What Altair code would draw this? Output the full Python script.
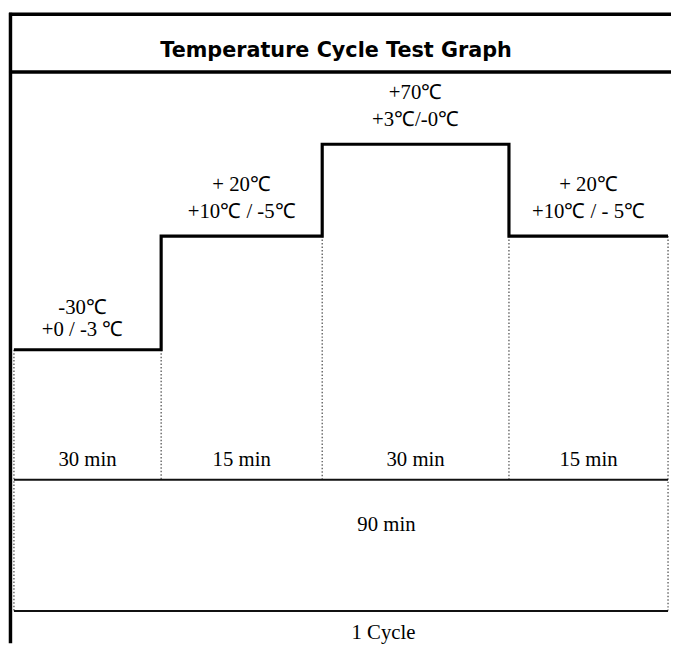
import altair as alt
import pandas as pd

# ---- data ----
title_text = "Temperature Cycle Test Graph"
segment_minutes = [30, 15, 30, 15]
segment_temps = [-30, 20, 70, 20]
temp_labels = ["-30℃", "+ 20℃", "+70℃", "+ 20℃"]
tol_labels = ["+0 / -3 ℃", "+10℃ / -5℃", "+3℃/-0℃", "+10℃ / - 5℃"]
duration_labels = ["30 min", "15 min", "30 min", "15 min"]
total_label = "90 min"
cycle_label = "1 Cycle"

# ---- derived tables ----
starts = [sum(segment_minutes[:i]) for i in range(len(segment_minutes))]
ends = [s + m for s, m in zip(starts, segment_minutes)]
total = sum(segment_minutes)

seg = pd.DataFrame({
    "start": starts, "end": ends,
    "mid": [(s + e) / 2 for s, e in zip(starts, ends)],
    "temp": segment_temps, "tlabel": temp_labels,
    "tol": tol_labels, "dur": duration_labels,
})
step = pd.DataFrame({"t": starts + [total], "temp": segment_temps + [segment_temps[-1]]})
inner = pd.DataFrame({
    "t": ends[:-1],
    "temp": [min(segment_temps[i], segment_temps[i + 1]) for i in range(len(segment_temps) - 1)],
})
outer = pd.DataFrame({"t": [0, total], "temp": [segment_temps[0], segment_temps[-1]]})
span = pd.DataFrame({"a": [0], "b": [total]})
one = alt.Data(values=[{}])

W, H = 671, 639
xs = alt.Scale(domain=[0, 30, 45, 75, 90], range=[6, 155, 318, 507, 668], nice=False, zero=False)
ys = alt.Scale(domain=[-30, 20, 70], range=[342, 227, 134], nice=False, zero=False)
X = lambda f: alt.X(f, type="quantitative", scale=xs, axis=None)
Y = lambda f: alt.Y(f, type="quantitative", scale=ys, axis=None)

serif = "Liberation Serif"
FS = 21

# frame
top_border = alt.Chart(one).mark_rule(color="black", strokeWidth=3.5).encode(
    x=alt.value(1), x2=alt.value(W), y=alt.value(2.5))
title_rule = alt.Chart(one).mark_rule(color="black", strokeWidth=3.5).encode(
    x=alt.value(1), x2=alt.value(W), y=alt.value(61))
left_border = alt.Chart(one).mark_rule(color="black", strokeWidth=3.5).encode(
    x=alt.value(2.5), y=alt.value(1), y2=alt.value(H))
title = alt.Chart(one).mark_text(
    text=title_text, font="DejaVu Sans", fontWeight="bold", fontSize=21,
    align="center", baseline="middle", color="black").encode(
    x=alt.value(332), y=alt.value(40))

# dotted verticals
inner_rules = alt.Chart(inner).mark_rule(color="#555", strokeWidth=1.3, strokeDash=[1.5, 2]).encode(
    x=X("t"), y=Y("temp"), y2=alt.value(473))
outer_rules = alt.Chart(outer).mark_rule(color="#555", strokeWidth=1.3, strokeDash=[1.5, 2]).encode(
    x=X("t"), y=Y("temp"), y2=alt.value(606))

# horizontal rules
h1 = alt.Chart(span).mark_rule(color="#111", strokeWidth=2).encode(
    x=X("a"), x2="b", y=alt.value(473.5))
h2 = alt.Chart(span).mark_rule(color="#111", strokeWidth=2).encode(
    x=X("a"), x2="b", y=alt.value(606.5))

# step line
line = alt.Chart(step).mark_line(interpolate="step-after", color="black", strokeWidth=3.2,
                                 strokeJoin="miter").encode(x=X("t"), y=Y("temp"))

# temperature labels
hi = alt.Chart(seg).transform_filter("datum.temp >= 0")
lo = alt.Chart(seg).transform_filter("datum.temp < 0")
tl_hi = hi.mark_text(font=serif, fontSize=FS, baseline="middle", dy=-52, color="black").encode(
    x=X("mid"), y=Y("temp"), text="tlabel:N")
tol_hi = hi.mark_text(font=serif, fontSize=FS, baseline="middle", dy=-24, color="black").encode(
    x=X("mid"), y=Y("temp"), text="tol:N")
tl_lo = lo.mark_text(font=serif, fontSize=FS, baseline="middle", dy=-42, dx=-5, color="black").encode(
    x=X("mid"), y=Y("temp"), text="tlabel:N")
tol_lo = lo.mark_text(font=serif, fontSize=FS, baseline="middle", dy=-20, dx=-5, color="black").encode(
    x=X("mid"), y=Y("temp"), text="tol:N")

# duration labels
dur = alt.Chart(seg).mark_text(font=serif, fontSize=FS, baseline="middle", color="black").encode(
    x=X("mid"), y=alt.value(454), text="dur:N")
tot = alt.Chart(one).mark_text(text=total_label, font=serif, fontSize=FS, baseline="middle",
                               color="black").encode(x=alt.value(383), y=alt.value(519))
cyc = alt.Chart(one).mark_text(text=cycle_label, font=serif, fontSize=FS, baseline="middle",
                               color="black").encode(x=alt.value(380), y=alt.value(629))

chart = alt.layer(
    top_border, title_rule, left_border, title,
    inner_rules, outer_rules, h1, h2, line,
    tl_hi, tol_hi, tl_lo, tol_lo, dur, tot, cyc,
).properties(
    width=W, height=H, autosize=alt.AutoSizeParams(type="none"), padding=0, background="white"
).configure_view(stroke=None)

chart.save("out.html", embed_options={"renderer": "svg", "actions": False})
